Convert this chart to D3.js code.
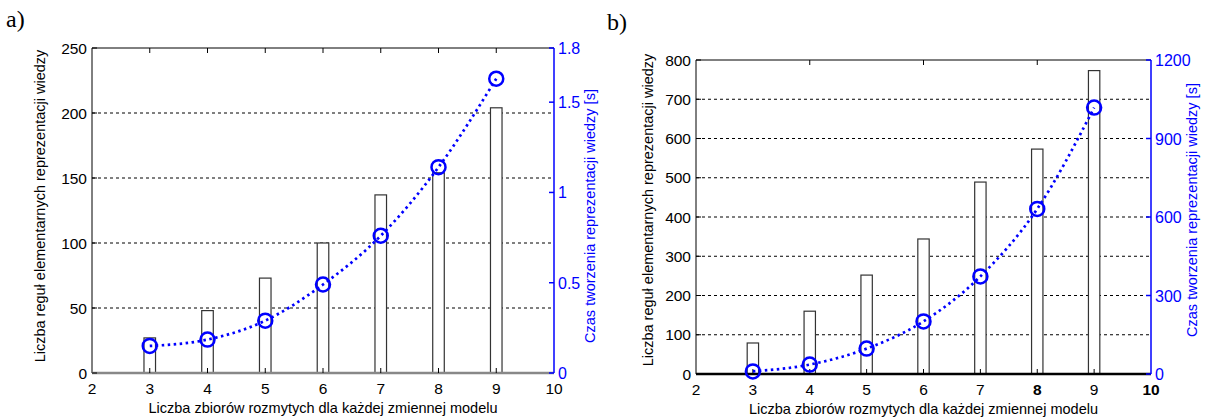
<!DOCTYPE html>
<html>
<head>
<meta charset="utf-8">
<script src="https://cdn.jsdelivr.net/npm/d3@7"></script>
<style>
  body { margin: 0; background: #fff; }
  svg { font-family: "Liberation Sans", Arial, sans-serif; }
</style>
</head>
<body>
<svg id="chart" width="1205" height="417"></svg>
<script>
// Data
const xCats = [3, 4, 5, 6, 7, 8, 9];
const xTicks = [2, 3, 4, 5, 6, 7, 8, 9, 10];

// panel a)
const rulesA = [27, 48, 73, 100, 137, 154, 204];
const timeA = [0.15, 0.185, 0.29, 0.49, 0.76, 1.14, 1.63];
const leftTicksA = [0, 50, 100, 150, 200, 250];
const rightTicksA = [0, 0.5, 1, 1.5, 1.8];

// panel b)
const rulesB = [79, 160, 252, 344, 489, 573, 773];
const timeB = [10, 36, 97, 201, 373, 631, 1018];
const leftTicksB = [0, 100, 200, 300, 400, 500, 600, 700, 800];
const rightTicksB = [0, 300, 600, 900, 1200];

const yLabel = "Liczba reguł elementarnych reprezentacji wiedzy";
const y2Label = "Czas tworzenia reprezentacji wiedzy [s]";
const xLabel = "Liczba zbiorów rozmytych dla każdej zmiennej modelu";

const svg = d3.select("#chart");
const blue = "#0000ff";

function drawPanel(p) {
  const g = svg.append("g");
  const x = d3.scaleLinear().domain([2, 10]).range([p.left, p.right]);
  const y = d3.scaleLinear().domain([0, p.yMax]).range([p.bottom, p.top]);
  const y2 = d3.scaleLinear().domain([0, p.y2Max]).range([p.bottom, p.top]);
  const bw = x(2.2) - x(2);

  // grid lines (dashed) at left ticks
  g.selectAll(".grid")
    .data(p.leftTicks.filter(d => d > 0 && d < p.yMax))
    .enter().append("line")
    .attr("x1", p.left).attr("x2", p.right)
    .attr("y1", d => y(d)).attr("y2", d => y(d))
    .attr("stroke", "#000").attr("stroke-width", 1)
    .attr("stroke-dasharray", "3,3");

  // bars
  g.selectAll(".bar")
    .data(p.rules)
    .enter().append("rect")
    .attr("x", (d, i) => x(xCats[i]) - bw / 2)
    .attr("y", d => y(d))
    .attr("width", bw)
    .attr("height", d => y(0) - y(d))
    .attr("fill", "#fff")
    .attr("stroke", "#333").attr("stroke-width", 1.2);

  // frame: top, left, bottom
  g.append("path")
    .attr("d", `M${p.right},${p.top}H${p.left}V${p.bottom}H${p.right}`)
    .attr("fill", "none").attr("stroke", "#000").attr("stroke-width", 1);
  // baseline
  g.append("line")
    .attr("x1", p.left).attr("x2", p.right)
    .attr("y1", p.bottom).attr("y2", p.bottom)
    .attr("stroke", p.baseColor).attr("stroke-width", 2.5);

  // inward ticks
  g.selectAll(".ltick").data(p.leftTicks).enter().append("line")
    .attr("x1", p.left).attr("x2", p.left + 5)
    .attr("y1", d => y(d)).attr("y2", d => y(d))
    .attr("stroke", "#000");
  g.selectAll(".ttick").data(p.topTicks).enter().append("line")
    .attr("x1", d => x(d)).attr("x2", d => x(d))
    .attr("y1", p.top).attr("y2", p.top + 5)
    .attr("stroke", "#000");
  g.selectAll(".btick").data(xCats).enter().append("line")
    .attr("x1", d => x(d)).attr("x2", d => x(d))
    .attr("y1", p.bottom).attr("y2", p.bottom - 5)
    .attr("stroke", "#000");

  // right axis (blue)
  g.append("line")
    .attr("x1", p.right).attr("x2", p.right)
    .attr("y1", p.top).attr("y2", p.bottom)
    .attr("stroke", blue).attr("stroke-width", 1.5);
  g.selectAll(".rtick").data(p.rightTicks).enter().append("line")
    .attr("x1", p.right).attr("x2", p.right - 5)
    .attr("y1", d => y2(d)).attr("y2", d => y2(d))
    .attr("stroke", blue).attr("stroke-width", 1.5);

  // tick labels
  g.selectAll(".llab").data(p.leftTicks).enter().append("text")
    .attr("x", p.left - 5).attr("y", d => y(d) + 5.5)
    .attr("text-anchor", "end").attr("font-size", 15.5)
    .text(d => d);
  g.selectAll(".rlab").data(p.rightTicks).enter().append("text")
    .attr("x", p.right + 4).attr("y", d => y2(d) + 6)
    .attr("font-size", 16).attr("fill", blue)
    .text(d => d);
  g.selectAll(".xlab").data(xTicks).enter().append("text")
    .attr("x", d => x(d)).attr("y", p.bottom + 21)
    .attr("text-anchor", "middle").attr("font-size", 15.5)
    .attr("font-weight", d => p.boldX.includes(d) ? "bold" : "normal")
    .text(d => d);

  // time series line (dotted) and circles
  const line = d3.line()
    .x((d, i) => x(xCats[i]))
    .y(d => y2(d))
    .curve(d3.curveMonotoneX);
  g.append("path")
    .datum(p.time)
    .attr("d", line)
    .attr("fill", "none").attr("stroke", blue)
    .attr("stroke-width", 2.7).attr("stroke-dasharray", "2.5,3.5");
  g.selectAll(".pt").data(p.time).enter().append("circle")
    .attr("cx", (d, i) => x(xCats[i]))
    .attr("cy", d => y2(d))
    .attr("r", 7)
    .attr("fill", "none").attr("stroke", blue).attr("stroke-width", 2.5);

  // axis titles
  g.append("text")
    .attr("transform", `translate(${p.yLabelX},${p.yLabelY}) rotate(-90)`)
    .attr("text-anchor", "middle").attr("font-size", 14.5)
    .text(yLabel);
  g.append("text")
    .attr("transform", `translate(${p.y2LabelX},${p.y2LabelY}) rotate(-90)`)
    .attr("text-anchor", "middle").attr("font-size", 14.5).attr("fill", blue)
    .text(y2Label);
  g.append("text")
    .attr("x", (p.left + p.right) / 2).attr("y", p.bottom + 40)
    .attr("text-anchor", "middle").attr("font-size", 14.5)
    .text(xLabel);

  // panel letter
  g.append("text")
    .attr("x", p.letterX).attr("y", p.letterY)
    .attr("font-family", "'Liberation Serif', 'Times New Roman', serif")
    .attr("font-size", 24)
    .text(p.letter);
}

drawPanel({
  left: 92, right: 554, top: 48, bottom: 373,
  yMax: 250, y2Max: 1.8,
  rules: rulesA, time: timeA,
  leftTicks: leftTicksA, rightTicks: rightTicksA,
  topTicks: xCats, boldX: [], baseColor: "#888",
  yLabelX: 45, yLabelY: 206, y2LabelX: 595, y2LabelY: 216,
  letter: "a)", letterX: 6, letterY: 27
});

drawPanel({
  left: 696, right: 1151, top: 60, bottom: 374,
  yMax: 800, y2Max: 1200,
  rules: rulesB, time: timeB,
  leftTicks: leftTicksB, rightTicks: rightTicksB,
  topTicks: [4, 6, 8], boldX: [8, 10], baseColor: "#000",
  yLabelX: 653, yLabelY: 210, y2LabelX: 1197, y2LabelY: 210,
  letter: "b)", letterX: 607, letterY: 30
});
</script>
</body>
</html>
